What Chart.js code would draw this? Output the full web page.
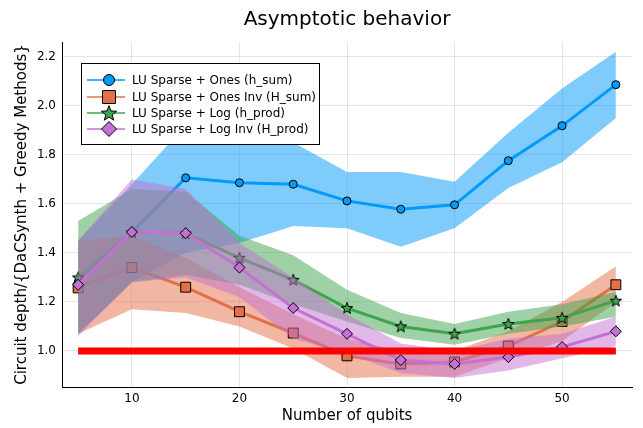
<!DOCTYPE html>
<html><head><meta charset="utf-8">
<script src="https://cdn.jsdelivr.net/npm/chart.js@4"></script>
<style>html,body{margin:0;padding:0;background:#fff}#wrap{width:643px;height:428px}</style>
</head><body><div id="wrap"><canvas id="c" width="643" height="428"></canvas></div>
<script>
const qubits = [5,10,15,20,25,30,35,40,45,50,55];
const xTicks = [10,20,30,40,50];
const yTicks = [1.0,1.2,1.4,1.6,1.8,2.0,2.2];

const onesSum      = [1.28, 1.485, 1.706, 1.686, 1.68, 1.612, 1.578, 1.596, 1.776, 1.918, 2.086];
const onesSumHi    = [1.45, 1.68, 1.92, 1.90, 1.85, 1.73, 1.73, 1.69, 1.89, 2.07, 2.22];
const onesSumLo    = [1.07, 1.28, 1.40, 1.44, 1.51, 1.50, 1.425, 1.50, 1.665, 1.77, 1.95];

const onesInv      = [1.257, 1.34, 1.26, 1.16, 1.073, 0.98, 0.947, 0.955, 1.02, 1.12, 1.27];
const onesInvHi    = [1.45, 1.47, 1.38, 1.26, 1.15, 1.05, 1.0, 1.0, 1.08, 1.20, 1.345];
const onesInvLo    = [1.07, 1.17, 1.155, 1.10, 1.01, 0.89, 0.895, 0.895, 0.97, 1.04, 1.20];

const logProd      = [1.30, 1.485, 1.48, 1.38, 1.29, 1.175, 1.10, 1.07, 1.11, 1.135, 1.205];
const logProdHi    = [1.53, 1.66, 1.65, 1.47, 1.39, 1.25, 1.155, 1.11, 1.16, 1.19, 1.24];
const logProdLo    = [1.07, 1.28, 1.31, 1.27, 1.19, 1.12, 1.053, 1.025, 1.07, 1.10, 1.14];

const logInv       = [1.27, 1.485, 1.48, 1.34, 1.175, 1.07, 0.963, 0.947, 0.975, 1.016, 1.08];
const logInvHi     = [1.45, 1.70, 1.66, 1.44, 1.30, 1.15, 1.03, 1.0, 1.05, 1.07, 1.14];
const logInvLo     = [1.06, 1.28, 1.30, 1.22, 1.05, 0.99, 0.91, 0.89, 0.92, 0.97, 1.02];

const refX = [5, 55];
const refY = [1.0, 1.0];

const labels = ['LU Sparse + Ones (h_sum)','LU Sparse + Ones Inv (H_sum)','LU Sparse + Log (h_prod)','LU Sparse + Log Inv (H_prod)'];
const colors = ['rgb(0,154,250)','rgb(227,111,71)','rgb(62,164,78)','rgb(195,113,210)'];
const bands  = ['rgba(0,154,250,0.5)','rgba(227,111,71,0.5)','rgba(62,164,78,0.5)','rgba(195,113,210,0.5)'];

function starCanvas(r, fill){
  const s = Math.ceil(2*r+4);
  const c = document.createElement('canvas'); c.width=s; c.height=s;
  const g = c.getContext('2d'); const cx=s/2, cy=s/2 + r*0.08;
  g.beginPath();
  for(let i=0;i<10;i++){
    const rad = (i%2===0)? r : r*0.42;
    const a = -Math.PI/2 + i*Math.PI/5;
    const px = cx + rad*Math.cos(a), py = cy + rad*Math.sin(a);
    if(i===0) g.moveTo(px,py); else g.lineTo(px,py);
  }
  g.closePath(); g.fillStyle=fill; g.fill(); g.lineWidth=1; g.strokeStyle='#000'; g.stroke();
  return c;
}
const starSmall = starCanvas(6, colors[2]);

const series = [
  {mid:onesSum, hi:onesSumHi, lo:onesSumLo, style:'circle', radius:4},
  {mid:onesInv, hi:onesInvHi, lo:onesInvLo, style:'rect', radius:7},
  {mid:logProd, hi:logProdHi, lo:logProdLo, style:starSmall, radius:6},
  {mid:logInv, hi:logInvHi, lo:logInvLo, style:'rectRot', radius:5.5},
];
const pts = (ys)=> qubits.map((x,i)=>({x:x,y:ys[i]}));

const datasets = [];
series.forEach((s,i)=>{
  datasets.push({label:labels[i]+' hi', data:pts(s.hi), borderWidth:0, pointRadius:0, fill:'+1', backgroundColor:bands[i], borderColor:'rgba(0,0,0,0)'});
  datasets.push({label:labels[i]+' lo', data:pts(s.lo), borderWidth:0, pointRadius:0, fill:false, borderColor:'rgba(0,0,0,0)'});
  datasets.push({label:labels[i], data:pts(s.mid), borderWidth:3, borderColor:colors[i], fill:false,
    pointStyle:s.style, pointRadius:s.radius, pointBackgroundColor:colors[i], pointBorderColor:'#000', pointBorderWidth:1});
});
datasets.push({label:'ref', data:refX.map((x,i)=>({x:x,y:refY[i]})), borderWidth:7, borderColor:'rgb(255,0,0)', pointRadius:0, fill:false});
const N = datasets.length;
datasets.forEach((d,i)=>{ d.order = N - i; d.tension = 0; });

const FONT = '"DejaVu Sans", sans-serif';

const titlePlugin = {
  id:'titleP',
  afterDraw(chart){
    const g = chart.ctx, a = chart.chartArea;
    g.save(); g.fillStyle='#000'; g.font='20px '+FONT; g.textAlign='center'; g.textBaseline='middle';
    g.fillText('Asymptotic behavior', (a.left+a.right)/2, 20);
    g.restore();
  }
};

const legendPlugin = {
  id:'legendP',
  afterDraw(chart){
    const g = chart.ctx;
    const bx=81, by=63, bw=238, bh=81;
    g.save();
    g.fillStyle='#fff'; g.fillRect(bx,by,bw,bh);
    g.strokeStyle='#000'; g.lineWidth=1; g.strokeRect(bx+0.5,by+0.5,bw,bh);
    const ys=[80,97,113,129];
    g.font='12px '+FONT; g.textBaseline='middle'; g.textAlign='left';
    ys.forEach((y,i)=>{
      g.strokeStyle=colors[i]; g.lineWidth=1.5; g.beginPath(); g.moveTo(87,y); g.lineTo(125,y); g.stroke();
      const mx=109;
      g.fillStyle=colors[i]; g.strokeStyle='#000'; g.lineWidth=1;
      g.beginPath();
      if(i===0){ g.arc(mx,y,5.5,0,Math.PI*2); }
      else if(i===1){ g.rect(mx-6.5,y-6.5,13,13); }
      else if(i===2){
        const r=8, cy=y+0.7;
        for(let k=0;k<10;k++){ const rad=(k%2===0)?r:r*0.42; const an=-Math.PI/2+k*Math.PI/5;
          const px=mx+rad*Math.cos(an), py=cy+rad*Math.sin(an); if(k===0) g.moveTo(px,py); else g.lineTo(px,py);} g.closePath();
      }
      else { g.moveTo(mx,y-7.5); g.lineTo(mx+7.5,y); g.lineTo(mx,y+7.5); g.lineTo(mx-7.5,y); g.closePath(); }
      g.fill(); g.stroke();
      g.fillStyle='#000'; g.fillText(labels[i], 132, y+0.5);
    });
    g.restore();
  }
};

new Chart(document.getElementById('c'), {
  type:'line',
  data:{datasets:datasets},
  options:{
    responsive:false, animation:false, devicePixelRatio:1,
    layout:{padding:{left:0,right:11,top:42,bottom:0}},
    plugins:{legend:{display:false}, tooltip:{enabled:false}, title:{display:false}},
    scales:{
      x:{type:'linear', min:3.5, max:56.5,
        afterBuildTicks(s){ s.ticks = xTicks.map(v=>({value:v})); },
        afterFit(s){ s.height = 41; },
        grid:{color:'rgba(0,0,0,0.1)', drawTicks:false},
        border:{color:'#000', width:1},
        ticks:{font:{family:FONT,size:12}, color:'#000', padding:5},
        title:{display:true, text:'Number of qubits', font:{family:FONT,size:15}, color:'#000', padding:{top:0,bottom:3}}
      },
      y:{type:'linear', min:0.853, max:2.26,
        afterBuildTicks(s){ s.ticks = yTicks.map(v=>({value:v})); },
        afterFit(s){ s.width = 62; },
        grid:{color:'rgba(0,0,0,0.1)', drawTicks:false},
        border:{color:'#000', width:1},
        ticks:{font:{family:FONT,size:12}, color:'#000', padding:6, callback:(v)=>v.toFixed(1)},
        title:{display:true, text:'Circuit depth/{DaCSynth + Greedy Methods}', font:{family:FONT,size:15}, color:'#000', padding:{top:13,bottom:0}}
      }
    }
  },
  plugins:[titlePlugin, legendPlugin]
});
</script>
</body></html>
